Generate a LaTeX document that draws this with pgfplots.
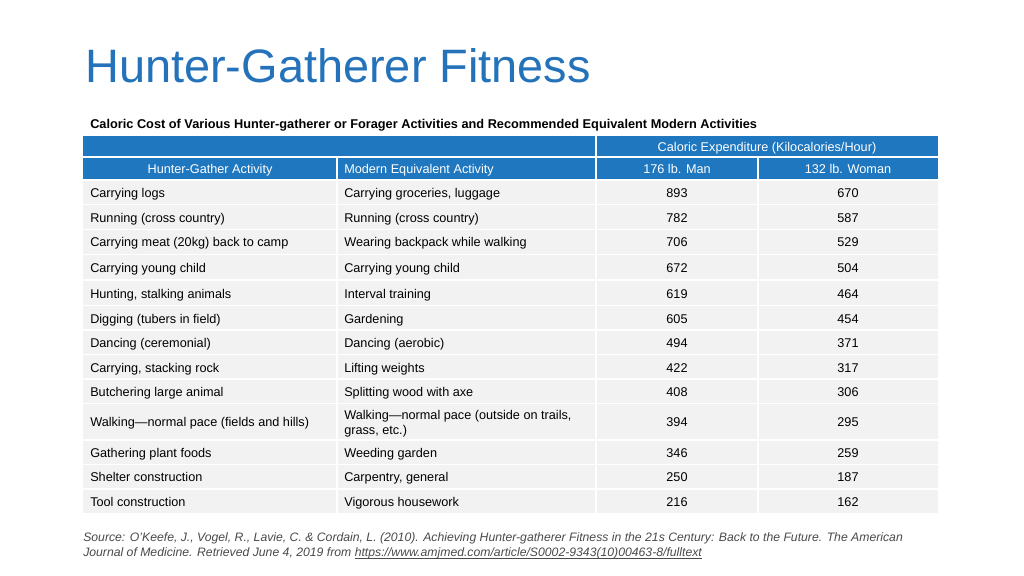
\documentclass[border=0pt]{standalone}
\usepackage{pgfplots}
\usepackage{pgfplotstable}
\pgfplotsset{compat=1.18}
\usepackage{fontspec}
\setmainfont{Liberation Sans}
\definecolor{titleblue}{HTML}{2472BA}
\definecolor{headblue}{HTML}{1F77BF}
\definecolor{rowgray}{HTML}{F2F2F2}
\definecolor{srcgray}{HTML}{4A4A4A}
\pgfplotstableread{
y man woman
192 893 670
217 782 587
241 706 529
267 672 504
293 619 464
318 605 454
342 494 371
367 422 317
391 408 306
421 394 295
452 346 259
476 250 187
501 216 162
}\caldata
\newcommand{\cellfont}{\fontsize{9.55}{11.5}\selectfont}
\newcommand{\trow}[3]{%
  \node[anchor=base west, inner sep=0pt, font=\cellfont] at (axis cs:90,#1+5.3) {#2};
  \node[anchor=base west, inner sep=0pt, font=\cellfont] at (axis cs:344,#1+5.3) {#3};}
\newcommand{\ul}[1]{\setbox0\hbox{#1}\rlap{\raisebox{-1.6pt}{\color{srcgray}\rule{\wd0}{0.45pt}}}#1}
\begin{document}
\begin{tikzpicture}
\begin{axis}[
  width=768bp, height=432bp, scale only axis,
  xmin=0, xmax=1024, ymin=0, ymax=576, y dir=reverse,
  axis lines=none, clip=false,
]
% page background
\fill[white] (axis cs:0,0) rectangle (axis cs:1024,576);
% title
\node[anchor=base west, text=titleblue, font=\fontsize{35.3}{40}\selectfont, inner sep=0pt] at (axis cs:85,82) {Hunter-Gatherer Fitness};
\node[anchor=base west, font=\bfseries\fontsize{9.6}{11}\selectfont, inner sep=0pt] at (axis cs:90,128.5) {Caloric Cost of Various Hunter-gatherer or Forager Activities and Recommended Equivalent Modern Activities};
% header backgrounds
\fill[headblue] (axis cs:83,136) rectangle (axis cs:938,180);
\fill[rowgray] (axis cs:83,180) rectangle (axis cs:938,513);
% white separators
\pgfplotsinvokeforeach{157,180,204.5,229.5,254.5,280,305.5,330,354.5,379,403.5,440,464.5,489}{
  \draw[white, line width=1.3bp] (axis cs:83,#1) -- (axis cs:938,#1);
}
\draw[white, line width=1.3bp] (axis cs:596,136) -- (axis cs:596,513);
\draw[white, line width=1.3bp] (axis cs:337,157) -- (axis cs:337,513);
\draw[white, line width=1.3bp] (axis cs:758,157) -- (axis cs:758,513);
% header text
\node[text=white, font=\cellfont, anchor=base, inner sep=0pt] at (axis cs:767,151.5) {Caloric Expenditure (Kilocalories/Hour)};
\node[text=white, font=\cellfont, anchor=base, inner sep=0pt] at (axis cs:210,173.5) {Hunter-Gather Activity};
\node[text=white, font=\cellfont, anchor=base west, inner sep=0pt] at (axis cs:344,173.5) {Modern Equivalent Activity};
\node[text=white, font=\cellfont, anchor=base, inner sep=0pt] at (axis cs:677,173.5) {176 lb. Man};
\node[text=white, font=\cellfont, anchor=base, inner sep=0pt] at (axis cs:848,173.5) {132 lb. Woman};
% text columns
\trow{192}{Carrying logs}{Carrying groceries, luggage}
\trow{217}{Running (cross country)}{Running (cross country)}
\trow{241}{Carrying meat (20kg) back to camp}{Wearing backpack while walking}
\trow{267}{Carrying young child}{Carrying young child}
\trow{293}{Hunting, stalking animals}{Interval training}
\trow{318}{Digging (tubers in field)}{Gardening}
\trow{342}{Dancing (ceremonial)}{Dancing (aerobic)}
\trow{367}{Carrying, stacking rock}{Lifting weights}
\trow{391}{Butchering large animal}{Splitting wood with axe}
\trow{421}{Walking—normal pace (fields and hills)}{}
\trow{452}{Gathering plant foods}{Weeding garden}
\trow{476}{Shelter construction}{Carpentry, general}
\trow{501}{Tool construction}{Vigorous housework}
\node[anchor=base west, inner sep=0pt, font=\cellfont] at (axis cs:344,419) {Walking—normal pace (outside on trails,};
\node[anchor=base west, inner sep=0pt, font=\cellfont] at (axis cs:344,434) {grass, etc.)};
% numeric columns
\addplot[draw=none, mark=none, nodes near coords, point meta=explicit symbolic,
  nodes near coords style={anchor=base, font=\cellfont, inner sep=0pt}]
  table[x expr=677, y expr=\thisrow{y}+5.3, meta=man] {\caldata};
\addplot[draw=none, mark=none, nodes near coords, point meta=explicit symbolic,
  nodes near coords style={anchor=base, font=\cellfont, inner sep=0pt}]
  table[x expr=848, y expr=\thisrow{y}+5.3, meta=woman] {\caldata};
% source
\node[anchor=base west, inner sep=0pt, text=srcgray, font=\itshape\fontsize{9.2}{10}\selectfont] at (axis cs:83,541) {Source: O’Keefe, J., Vogel, R., Lavie, C. \& Cordain, L. (2010). Achieving Hunter-gatherer Fitness in the 21s Century: Back to the Future. The American};
\node[anchor=base west, inner sep=0pt, text=srcgray, font=\itshape\fontsize{9.2}{10}\selectfont] at (axis cs:83,556) {Journal of Medicine. Retrieved June 4, 2019 from \ul{https://www.amjmed.com/article/S0002-9343(10)00463-8/fulltext}};
\end{axis}
\end{tikzpicture}
\end{document}
